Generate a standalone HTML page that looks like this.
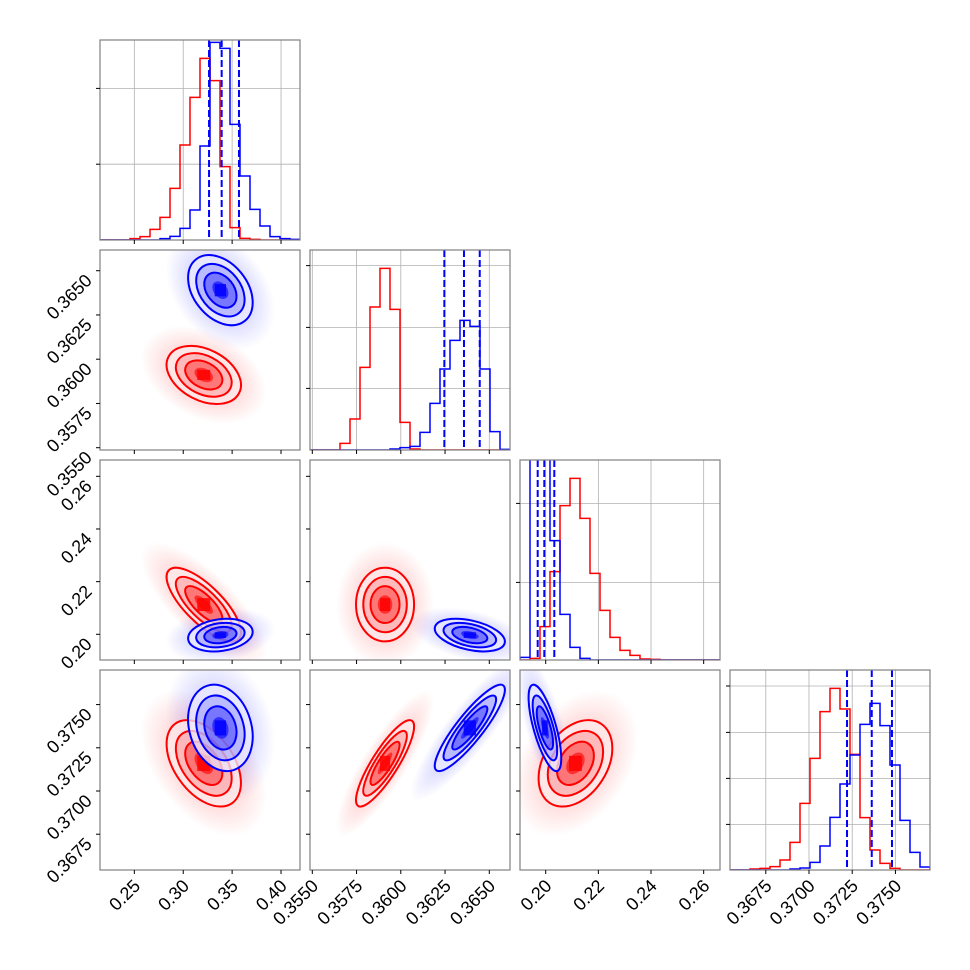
<!DOCTYPE html>
<html><head><meta charset="utf-8"><style>
html,body{margin:0;padding:0;background:#fff;}
svg{display:block;font-family:"Liberation Sans","DejaVu Sans",sans-serif;}
</style></head><body>
<svg id="chart" width="970" height="970" viewBox="0 0 970 970" xmlns="http://www.w3.org/2000/svg">
<defs id="defs"></defs>
</svg>
<script>
// ----- data -----
const paramRanges = [[0.2149,0.4194],[0.35487,0.36617],[0.19024,0.2662],[0.36543,0.37700]];
const tickValues = [[0.25,0.30,0.35,0.40],[0.3550,0.3575,0.3600,0.3625,0.3650],[0.20,0.22,0.24,0.26],[0.3675,0.3700,0.3725,0.3750]];
const tickLabels = [["0.25","0.30","0.35","0.40"],["0.3550","0.3575","0.3600","0.3625","0.3650"],["0.20","0.22","0.24","0.26"],["0.3675","0.3700","0.3725","0.3750"]];
const histRed0 = [0,0,0,.007,.017,.053,.113,.258,.475,.713,.908,.797,.367,.062,.008,.003,0,0,0,0];
const histBlue0 = [0,0,0,0,0,0,.007,.018,.058,.15,.47,.988,.958,.578,.32,.153,.07,.017,.007,.003];
const histRed1 = [0,0,0,.033,.155,.413,.715,.908,.703,.138,.005,0,0,0,0,0,0,0,0,0];
const histBlue1 = [0,0,0,0,0,0,0,0,.005,.012,.018,.088,.233,.405,.548,.648,.618,.405,.092,.003];
const histRed2 = [0,.008,.167,.442,.772,.908,.708,.433,.248,.113,.048,.023,.005,.003,0,0,0,0,0,0];
const histBlue2 = [.013,1.15,1.1,.597,.228,.063,.008,0,0,0,0,0,0,0,0,0,0,0,0,0];
const histRed3 = [0,0,.005,.008,.017,.05,.138,.333,.558,.792,.908,.805,.578,.262,.1,.033,.008,0,0,0];
const histBlue3 = [0,0,0,0,0,0,.005,.01,.038,.12,.263,.43,.575,.728,.833,.722,.525,.248,.088,.015];
const histTicks = [[.758,.379],[.922,.613,.308],[.783,.388],[.92,.688,.458,.228]];
const blueQuantiles = [[0.3264,0.3393,0.3570],[0.36246,0.36357,0.36446],[0.19696,0.19947,0.20327],[0.37220,0.37363,0.37480]];
const redMeans = [0.321,0.35911,0.2113,0.37160];
const redSds = [0.019,0.00082,0.0070,0.00125];
const blueMeans = [0.338,0.3639,0.1997,0.37365];
const blueSds = [0.0165,0.00099,0.0031,0.00125];
const pairs = [[0,1],[0,2],[1,2],[0,3],[1,3],[2,3]];
const redCorr = [-0.35,-0.75,0.0,-0.45,0.85,0.35];
const blueCorr = [-0.35,0.2,-0.4,-0.2,0.88,-0.7];

// ----- helpers -----
const NS = "http://www.w3.org/2000/svg";
const svg = document.getElementById('chart');
const defs = document.getElementById('defs');
const colX = i => 100 + 210*i;
const rowY = j => 40 + 210*j;
const px = (i,v) => colX(i) + (v-paramRanges[i][0])/(paramRanges[i][1]-paramRanges[i][0])*200;
const py = (j,v) => rowY(j) + 200 - (v-paramRanges[j][0])/(paramRanges[j][1]-paramRanges[j][0])*200;
function mk(tag, attrs, parent){
  const e = document.createElementNS(NS, tag);
  for (const k in attrs) e.setAttribute(k, attrs[k]);
  (parent||svg).appendChild(e);
  return e;
}
const colors = {red:"#ff0000", blue:"#0000ff"};

['red','blue'].forEach(c=>{
  const g = mk('radialGradient',{id:'fog-'+c},defs);
  mk('stop',{offset:'0','stop-color':colors[c],'stop-opacity':'0.3'},g);
  mk('stop',{offset:'0.55','stop-color':colors[c],'stop-opacity':'0.14'},g);
  mk('stop',{offset:'1','stop-color':colors[c],'stop-opacity':'0'},g);
});

function panelClip(i,j){
  const cp = mk('clipPath',{id:'clip-'+i+'-'+j},defs);
  mk('rect',{x:colX(i),y:rowY(j),width:200,height:200},cp);
  return 'url(#clip-'+i+'-'+j+')';
}

function frame(i,j,g){
  const r = mk('rect',{x:colX(i),y:rowY(j),width:200,height:200,fill:'none',stroke:'#808080','stroke-width':1.2},g);
  
  
}

function xTicks(i,j,g,withLabels){
  tickValues[i].forEach((v,k)=>{
    const x = px(i,v);
    mk('line',{x1:x,x2:x,y1:rowY(j)+200,y2:rowY(j)+204,stroke:'#000','stroke-width':1},g);
    if(withLabels){
      const t = mk('text',{x:x+7,y:rowY(j)+217,'text-anchor':'end','font-size':18,fill:'#000',transform:'rotate(-45 '+(x+7)+' '+(rowY(j)+217)+')'},g);
      t.textContent = tickLabels[i][k];
      
      
    }
  });
}
function yTicks(i,j,g,withLabels){
  tickValues[j].forEach((v,k)=>{
    const y = py(j,v);
    if (y < rowY(j)-1 || y > rowY(j)+201) return;
    mk('line',{x1:colX(i)-4,x2:colX(i),y1:y,y2:y,stroke:'#000','stroke-width':1},g);
    if(withLabels){
      const t = mk('text',{x:colX(i)-7,y:y+11,'text-anchor':'end','font-size':18,fill:'#000',transform:'rotate(-45 '+(colX(i)-7)+' '+(y+11)+')'},g);
      t.textContent = tickLabels[j][k];
      
      
    }
  });
}

// ----- diagonal histograms -----
const histsRed = [histRed0,histRed1,histRed2,histRed3];
const histsBlue = [histBlue0,histBlue1,histBlue2,histBlue3];
for (let d=0; d<4; d++){
  const g = mk('g',{});
  
  
  const x0 = colX(d), y0 = rowY(d);
  const cg = mk('g',{'clip-path':panelClip(d,d)},g);
  tickValues[d].forEach(v=>{ const x=px(d,v); mk('line',{x1:x,x2:x,y1:y0,y2:y0+200,stroke:'#b0b0b0','stroke-width':0.8},cg); });
  histTicks[d].forEach(f=>{ const y=y0+200-f*200; mk('line',{x1:x0,x2:x0+200,y1:y,y2:y,stroke:'#b0b0b0','stroke-width':0.8},cg); });
  [['red',histsRed[d]],['blue',histsBlue[d]]].forEach(([c,h])=>{
    const n = h.length, bw = 200/n;
    let dstr = 'M'+x0+' '+(y0+200);
    h.forEach((v,k)=>{
      const y = y0+200-v*200;
      dstr += ' L'+(x0+k*bw)+' '+y+' L'+(x0+(k+1)*bw)+' '+y;
    });
    dstr += ' L'+(x0+200)+' '+(y0+200);
    const p = mk('path',{d:dstr,fill:'none',stroke:colors[c],'stroke-width':1.5},cg);
    
    
  });
  blueQuantiles[d].forEach(q=>{
    const x = px(d,q);
    const l = mk('line',{x1:x,x2:x,y1:y0,y2:y0+200,stroke:'#0000ff','stroke-width':2,'stroke-dasharray':'7,3'},cg);
    
    
  });
  frame(d,d,g);
  xTicks(d,d,g,d===3);
  histTicks[d].forEach(f=>{ const y=y0+200-f*200; mk('line',{x1:x0-4,x2:x0,y1:y,y2:y,stroke:'#000'},g); });
}

// ----- 2D panels -----
function ellipseParams(i,j,mean,sd,rho){
  const sx = sd[i]/(paramRanges[i][1]-paramRanges[i][0])*200;
  const sy = sd[j]/(paramRanges[j][1]-paramRanges[j][0])*200;
  const a = sx*sx, b = sy*sy, c = -rho*sx*sy;
  const th = 0.5*Math.atan2(2*c, a-b);
  const m = (a+b)/2, r = Math.sqrt(((a-b)/2)**2 + c*c);
  return {cx:px(i,mean[i]), cy:py(j,mean[j]), r1:Math.sqrt(m+r), r2:Math.sqrt(Math.max(m-r,0.01)), deg:th*180/Math.PI, sx, sy};
}
pairs.forEach(([i,j],pi)=>{
  const g = mk('g',{});
  
  
  const cg = mk('g',{'clip-path':panelClip(i,j)},g);
  const series = [['red',redMeans,redSds,redCorr[pi]],['blue',blueMeans,blueSds,blueCorr[pi]]];
  series.forEach(([c,mean,sd,rho])=>{
    const e = ellipseParams(i,j,mean,sd,rho);
    const el = mk('ellipse',{cx:e.cx,cy:e.cy,rx:e.r1*3.4,ry:e.r2*3.4,fill:'url(#fog-'+c+')',transform:'rotate('+e.deg+' '+e.cx+' '+e.cy+')'},cg);
    
    
  });
  series.forEach(([c,mean,sd,rho])=>{
    const e = ellipseParams(i,j,mean,sd,rho);
    const tr = 'rotate('+e.deg+' '+e.cx+' '+e.cy+')';
    [[2,'#fff',0.75],[2,colors[c],0.06],[1.5,colors[c],0.18],[1,colors[c],0.35],[0.5,colors[c],0.6]].forEach(([k,f,o])=>{
      mk('ellipse',{cx:e.cx,cy:e.cy,rx:e.r1*k,ry:e.r2*k,fill:f,'fill-opacity':o,transform:tr},cg);
    });
    mk('rect',{x:e.cx-e.sx*0.35,y:e.cy-e.sy*0.35,width:e.sx*0.7,height:e.sy*0.7,fill:colors[c],'fill-opacity':0.85},cg);
    [1,1.5,2].forEach(k=>{
      const el = mk('ellipse',{cx:e.cx,cy:e.cy,rx:e.r1*k,ry:e.r2*k,fill:'none',stroke:colors[c],'stroke-width':2,transform:tr},cg);
      
      
    });
  });
  frame(i,j,g);
  xTicks(i,j,g,j===3);
  yTicks(i,j,g,i===0);
});
</script>
</body></html>
